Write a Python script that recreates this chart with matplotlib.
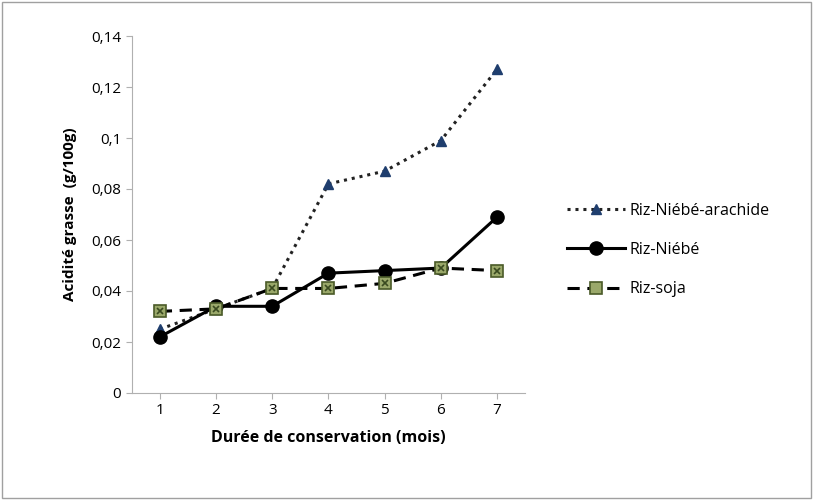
import matplotlib.pyplot as plt
from matplotlib.ticker import FuncFormatter

plt.rcParams['font.family'] = ['Open Sans', 'DejaVu Sans']

mois = [1, 2, 3, 4, 5, 6, 7]
arachide = [0.025, 0.033, 0.041, 0.082, 0.087, 0.099, 0.127]
niebe = [0.022, 0.034, 0.034, 0.047, 0.048, 0.049, 0.069]
soja = [0.032, 0.033, 0.041, 0.041, 0.043, 0.049, 0.048]

fig = plt.figure(figsize=(8.13, 5), dpi=100)
ax = fig.add_axes([0.162, 0.214, 0.484, 0.714])

ax.plot(mois, arachide, linestyle=(0, (1, 1.6)), color='#222222', linewidth=2.2,
        marker='^', markersize=7, markerfacecolor='#1f3e6e', markeredgecolor='#1f3e6e',
        label='Riz-Niébé-arachide')
ax.plot(mois, niebe, linestyle='-', color='black', linewidth=2.2,
        marker='o', markersize=9.5, markerfacecolor='black', markeredgecolor='black',
        label='Riz-Niébé')
ax.plot(mois, soja, linestyle=(0, (4, 2.5)), color='black', linewidth=2.2,
        marker='s', markersize=8, markerfacecolor='#9aa86a', markeredgecolor='#4a5a28',
        markeredgewidth=1.2, label='Riz-soja')
ax.plot(mois, soja, linestyle='none', marker='x', markersize=5,
        markeredgecolor='#3a4a20', markeredgewidth=1.2)

ax.set_xlim(0.5, 7.5)
ax.set_ylim(0, 0.14)
ax.set_xticks(mois)
ax.set_yticks([0, 0.02, 0.04, 0.06, 0.08, 0.1, 0.12, 0.14])
ax.yaxis.set_major_formatter(FuncFormatter(lambda v, p: ('%g' % round(v, 2)).replace('.', ',')))
ax.tick_params(labelsize=11, length=4, color='#b0b0b0')
for s in ['top', 'right']:
    ax.spines[s].set_visible(False)
for s in ['left', 'bottom']:
    ax.spines[s].set_color('#b0b0b0')

ax.set_xlabel('Durée de conservation (mois)', fontsize=11.5, fontweight='bold', labelpad=8)
ax.set_ylabel('Acidité grasse  (g/100g)', fontsize=11, fontweight='bold', labelpad=10)

fig.legend(loc='center left', bbox_to_anchor=(0.68, 0.5), frameon=False,
           fontsize=11.5, handlelength=3.6, labelspacing=1.45, handletextpad=0.3)

fig.patches.append(plt.Rectangle((0.003, 0.004), 0.994, 0.992, transform=fig.transFigure,
                                 fill=False, edgecolor='#a0a0a0', linewidth=1))

fig.savefig('out.png', dpi=100)
